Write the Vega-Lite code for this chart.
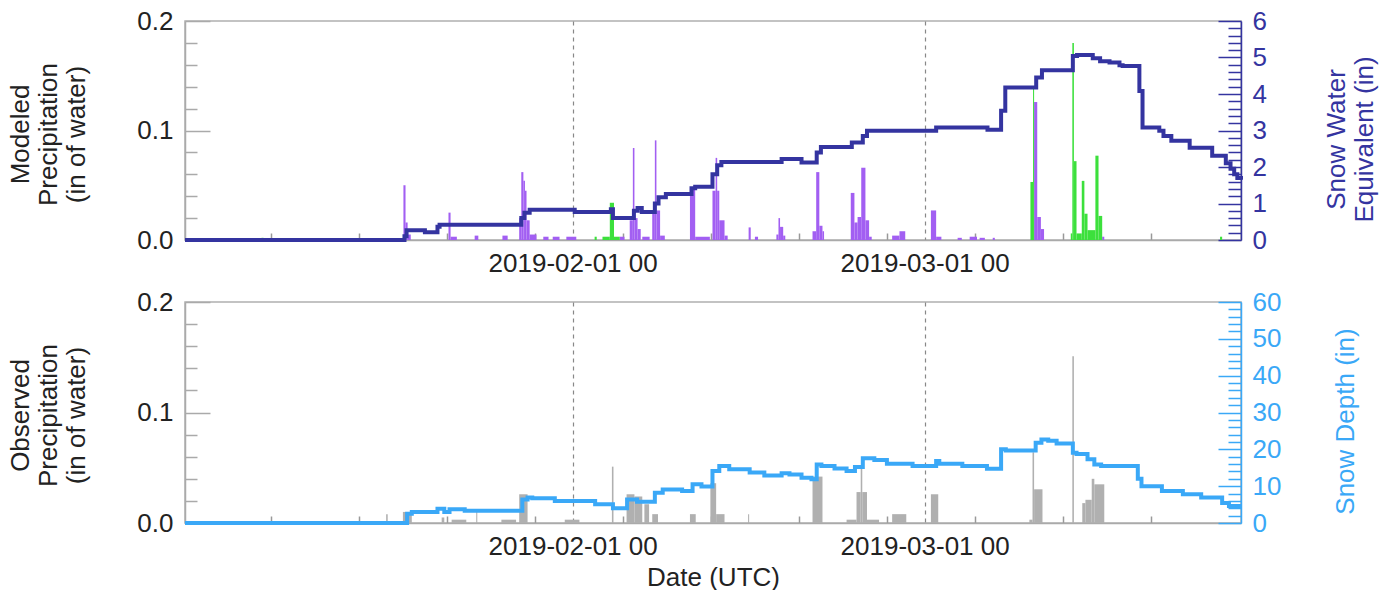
{
  "$schema": "https://vega.github.io/schema/vega-lite/v6.json",
  "background": "white",
  "padding": {"left": 7, "top": 7, "right": 0, "bottom": 0},
  "config": {
    "font": "Liberation Sans",
    "view": {"stroke": "#b0b0b0", "strokeWidth": 1.5},
    "axis": {
      "labelFont": "Liberation Sans",
      "titleFont": "Liberation Sans",
      "labelFontSize": 26,
      "titleFontSize": 26,
      "titleFontWeight": "normal",
      "labelColor": "#222222",
      "titleColor": "#222222",
      "domainColor": "#aaaaaa",
      "tickColor": "#aaaaaa",
      "domainWidth": 1.5,
      "tickWidth": 1.5,
      "titleLineHeight": 28
    }
  },
  "datasets": {
    "modeled": [
      {"s": "2019-01-18T13:00:00Z", "e": "2019-01-18T17:00:00Z", "v": 0.050, "k": "snow"},
      {"s": "2019-01-18T17:00:00Z", "e": "2019-01-18T21:00:00Z", "v": 0.016, "k": "snow"},
      {"s": "2019-01-18T21:00:00Z", "e": "2019-01-19T03:00:00Z", "v": 0.005, "k": "snow"},
      {"s": "2019-01-22T03:00:00Z", "e": "2019-01-22T07:00:00Z", "v": 0.025, "k": "snow"},
      {"s": "2019-01-22T07:00:00Z", "e": "2019-01-22T19:00:00Z", "v": 0.003, "k": "snow"},
      {"s": "2019-01-24T05:00:00Z", "e": "2019-01-24T12:00:00Z", "v": 0.004, "k": "snow"},
      {"s": "2019-01-26T10:00:00Z", "e": "2019-01-26T20:00:00Z", "v": 0.004, "k": "snow"},
      {"s": "2019-01-27T18:00:00Z", "e": "2019-01-27T22:00:00Z", "v": 0.020, "k": "snow"},
      {"s": "2019-01-27T22:00:00Z", "e": "2019-01-28T02:00:00Z", "v": 0.062, "k": "snow"},
      {"s": "2019-01-28T02:00:00Z", "e": "2019-01-28T05:00:00Z", "v": 0.054, "k": "snow"},
      {"s": "2019-01-28T05:00:00Z", "e": "2019-01-28T08:00:00Z", "v": 0.045, "k": "snow"},
      {"s": "2019-01-28T08:00:00Z", "e": "2019-01-28T14:00:00Z", "v": 0.018, "k": "snow"},
      {"s": "2019-01-28T14:00:00Z", "e": "2019-01-29T03:00:00Z", "v": 0.005, "k": "snow"},
      {"s": "2019-01-29T16:00:00Z", "e": "2019-01-30T02:00:00Z", "v": 0.003, "k": "snow"},
      {"s": "2019-01-30T10:00:00Z", "e": "2019-01-30T23:00:00Z", "v": 0.003, "k": "snow"},
      {"s": "2019-01-31T12:00:00Z", "e": "2019-02-01T07:00:00Z", "v": 0.003, "k": "snow"},
      {"s": "2019-02-04T18:00:00Z", "e": "2019-02-05T03:00:00Z", "v": 0.003, "k": "snow"},
      {"s": "2019-02-05T13:00:00Z", "e": "2019-02-05T19:00:00Z", "v": 0.018, "k": "snow"},
      {"s": "2019-02-05T19:00:00Z", "e": "2019-02-05T22:00:00Z", "v": 0.084, "k": "snow"},
      {"s": "2019-02-05T22:00:00Z", "e": "2019-02-06T04:00:00Z", "v": 0.020, "k": "snow"},
      {"s": "2019-02-06T04:00:00Z", "e": "2019-02-06T10:00:00Z", "v": 0.010, "k": "snow"},
      {"s": "2019-02-06T13:00:00Z", "e": "2019-02-07T03:00:00Z", "v": 0.003, "k": "snow"},
      {"s": "2019-02-07T08:00:00Z", "e": "2019-02-07T13:00:00Z", "v": 0.027, "k": "snow"},
      {"s": "2019-02-07T13:00:00Z", "e": "2019-02-07T16:00:00Z", "v": 0.091, "k": "snow"},
      {"s": "2019-02-07T16:00:00Z", "e": "2019-02-07T23:00:00Z", "v": 0.027, "k": "snow"},
      {"s": "2019-02-07T23:00:00Z", "e": "2019-02-08T08:00:00Z", "v": 0.004, "k": "snow"},
      {"s": "2019-02-10T08:00:00Z", "e": "2019-02-10T18:00:00Z", "v": 0.048, "k": "snow"},
      {"s": "2019-02-10T18:00:00Z", "e": "2019-02-11T22:00:00Z", "v": 0.003, "k": "snow"},
      {"s": "2019-02-12T03:00:00Z", "e": "2019-02-12T09:00:00Z", "v": 0.045, "k": "snow"},
      {"s": "2019-02-12T09:00:00Z", "e": "2019-02-12T12:00:00Z", "v": 0.075, "k": "snow"},
      {"s": "2019-02-12T12:00:00Z", "e": "2019-02-12T16:00:00Z", "v": 0.045, "k": "snow"},
      {"s": "2019-02-12T16:00:00Z", "e": "2019-02-13T02:00:00Z", "v": 0.018, "k": "snow"},
      {"s": "2019-02-13T02:00:00Z", "e": "2019-02-13T08:00:00Z", "v": 0.004, "k": "snow"},
      {"s": "2019-02-15T00:00:00Z", "e": "2019-02-15T04:00:00Z", "v": 0.0115, "k": "snow"},
      {"s": "2019-02-15T12:00:00Z", "e": "2019-02-15T18:00:00Z", "v": 0.003, "k": "snow"},
      {"s": "2019-02-17T05:00:00Z", "e": "2019-02-17T09:00:00Z", "v": 0.005, "k": "snow"},
      {"s": "2019-02-17T09:00:00Z", "e": "2019-02-17T12:00:00Z", "v": 0.020, "k": "snow"},
      {"s": "2019-02-17T12:00:00Z", "e": "2019-02-17T18:00:00Z", "v": 0.012, "k": "snow"},
      {"s": "2019-02-17T18:00:00Z", "e": "2019-02-17T22:00:00Z", "v": 0.004, "k": "snow"},
      {"s": "2019-02-20T02:00:00Z", "e": "2019-02-20T09:00:00Z", "v": 0.008, "k": "snow"},
      {"s": "2019-02-20T09:00:00Z", "e": "2019-02-20T15:00:00Z", "v": 0.062, "k": "snow"},
      {"s": "2019-02-20T15:00:00Z", "e": "2019-02-20T21:00:00Z", "v": 0.013, "k": "snow"},
      {"s": "2019-02-20T21:00:00Z", "e": "2019-02-21T00:00:00Z", "v": 0.008, "k": "snow"},
      {"s": "2019-02-23T03:00:00Z", "e": "2019-02-23T10:00:00Z", "v": 0.043, "k": "snow"},
      {"s": "2019-02-23T10:00:00Z", "e": "2019-02-23T16:00:00Z", "v": 0.016, "k": "snow"},
      {"s": "2019-02-23T16:00:00Z", "e": "2019-02-23T23:00:00Z", "v": 0.021, "k": "snow"},
      {"s": "2019-02-23T23:00:00Z", "e": "2019-02-24T07:00:00Z", "v": 0.066, "k": "snow"},
      {"s": "2019-02-24T07:00:00Z", "e": "2019-02-24T14:00:00Z", "v": 0.018, "k": "snow"},
      {"s": "2019-02-24T14:00:00Z", "e": "2019-02-24T19:00:00Z", "v": 0.003, "k": "snow"},
      {"s": "2019-02-26T10:00:00Z", "e": "2019-02-27T00:00:00Z", "v": 0.004, "k": "snow"},
      {"s": "2019-02-27T00:00:00Z", "e": "2019-02-27T11:00:00Z", "v": 0.008, "k": "snow"},
      {"s": "2019-03-01T12:00:00Z", "e": "2019-03-01T22:00:00Z", "v": 0.027, "k": "snow"},
      {"s": "2019-03-01T22:00:00Z", "e": "2019-03-02T08:00:00Z", "v": 0.003, "k": "snow"},
      {"s": "2019-03-03T15:00:00Z", "e": "2019-03-03T23:00:00Z", "v": 0.002, "k": "snow"},
      {"s": "2019-03-04T14:00:00Z", "e": "2019-03-05T04:00:00Z", "v": 0.003, "k": "snow"},
      {"s": "2019-03-05T09:00:00Z", "e": "2019-03-05T19:00:00Z", "v": 0.002, "k": "snow"},
      {"s": "2019-03-06T10:00:00Z", "e": "2019-03-06T14:00:00Z", "v": 0.002, "k": "snow"},
      {"s": "2019-03-09T17:00:00Z", "e": "2019-03-09T23:00:00Z", "v": 0.126, "k": "snow"},
      {"s": "2019-03-09T23:00:00Z", "e": "2019-03-10T06:00:00Z", "v": 0.021, "k": "snow"},
      {"s": "2019-03-10T06:00:00Z", "e": "2019-03-10T12:00:00Z", "v": 0.010, "k": "snow"},
      {"s": "2019-03-15T03:00:00Z", "e": "2019-03-15T07:00:00Z", "v": 0.003, "k": "snow"},
      {"s": "2019-01-07T06:00:00Z", "e": "2019-01-07T10:00:00Z", "v": 0.002, "k": "rain"},
      {"s": "2019-02-02T18:00:00Z", "e": "2019-02-02T22:00:00Z", "v": 0.003, "k": "rain"},
      {"s": "2019-02-03T09:00:00Z", "e": "2019-02-03T23:00:00Z", "v": 0.003, "k": "rain"},
      {"s": "2019-02-03T23:00:00Z", "e": "2019-02-04T07:00:00Z", "v": 0.034, "k": "rain"},
      {"s": "2019-02-04T07:00:00Z", "e": "2019-02-04T18:00:00Z", "v": 0.003, "k": "rain"},
      {"s": "2019-03-09T10:00:00Z", "e": "2019-03-09T15:00:00Z", "v": 0.053, "k": "rain"},
      {"s": "2019-03-09T15:00:00Z", "e": "2019-03-09T17:00:00Z", "v": 0.138, "k": "rain"},
      {"s": "2019-03-12T15:00:00Z", "e": "2019-03-12T18:00:00Z", "v": 0.006, "k": "rain"},
      {"s": "2019-03-12T18:00:00Z", "e": "2019-03-12T21:00:00Z", "v": 0.180, "k": "rain"},
      {"s": "2019-03-12T21:00:00Z", "e": "2019-03-13T02:00:00Z", "v": 0.072, "k": "rain"},
      {"s": "2019-03-13T02:00:00Z", "e": "2019-03-13T12:00:00Z", "v": 0.006, "k": "rain"},
      {"s": "2019-03-13T12:00:00Z", "e": "2019-03-13T17:00:00Z", "v": 0.054, "k": "rain"},
      {"s": "2019-03-13T17:00:00Z", "e": "2019-03-13T23:00:00Z", "v": 0.024, "k": "rain"},
      {"s": "2019-03-13T23:00:00Z", "e": "2019-03-14T14:00:00Z", "v": 0.009, "k": "rain"},
      {"s": "2019-03-14T14:00:00Z", "e": "2019-03-14T20:00:00Z", "v": 0.077, "k": "rain"},
      {"s": "2019-03-14T20:00:00Z", "e": "2019-03-15T03:00:00Z", "v": 0.022, "k": "rain"},
      {"s": "2019-03-24T12:00:00Z", "e": "2019-03-24T16:00:00Z", "v": 0.003, "k": "rain"}
    ],
    "observed": [
      {"s": "2019-01-17T04:00:00Z", "e": "2019-01-17T07:00:00Z", "v": 0.008},
      {"s": "2019-01-18T12:00:00Z", "e": "2019-01-19T05:00:00Z", "v": 0.010},
      {"s": "2019-01-21T14:00:00Z", "e": "2019-01-21T19:00:00Z", "v": 0.005},
      {"s": "2019-01-22T09:00:00Z", "e": "2019-01-23T13:00:00Z", "v": 0.003},
      {"s": "2019-01-24T08:00:00Z", "e": "2019-01-24T10:00:00Z", "v": 0.012},
      {"s": "2019-01-26T08:00:00Z", "e": "2019-01-27T12:00:00Z", "v": 0.003},
      {"s": "2019-01-27T18:00:00Z", "e": "2019-01-28T10:00:00Z", "v": 0.026},
      {"s": "2019-01-31T09:00:00Z", "e": "2019-02-01T13:00:00Z", "v": 0.003},
      {"s": "2019-02-04T03:00:00Z", "e": "2019-02-04T06:00:00Z", "v": 0.051},
      {"s": "2019-02-05T07:00:00Z", "e": "2019-02-05T22:00:00Z", "v": 0.026},
      {"s": "2019-02-05T22:00:00Z", "e": "2019-02-06T13:00:00Z", "v": 0.024},
      {"s": "2019-02-06T17:00:00Z", "e": "2019-02-07T02:00:00Z", "v": 0.017},
      {"s": "2019-02-07T08:00:00Z", "e": "2019-02-07T19:00:00Z", "v": 0.008},
      {"s": "2019-02-10T08:00:00Z", "e": "2019-02-10T19:00:00Z", "v": 0.008},
      {"s": "2019-02-11T23:00:00Z", "e": "2019-02-12T10:00:00Z", "v": 0.036},
      {"s": "2019-02-12T10:00:00Z", "e": "2019-02-13T02:00:00Z", "v": 0.008},
      {"s": "2019-02-14T23:00:00Z", "e": "2019-02-15T01:00:00Z", "v": 0.008},
      {"s": "2019-02-20T02:00:00Z", "e": "2019-02-20T21:00:00Z", "v": 0.042},
      {"s": "2019-02-22T19:00:00Z", "e": "2019-02-23T14:00:00Z", "v": 0.003},
      {"s": "2019-02-23T14:00:00Z", "e": "2019-02-23T22:00:00Z", "v": 0.028},
      {"s": "2019-02-23T22:00:00Z", "e": "2019-02-24T01:00:00Z", "v": 0.049},
      {"s": "2019-02-24T01:00:00Z", "e": "2019-02-24T10:00:00Z", "v": 0.028},
      {"s": "2019-02-24T10:00:00Z", "e": "2019-02-25T09:00:00Z", "v": 0.003},
      {"s": "2019-02-26T10:00:00Z", "e": "2019-02-27T13:00:00Z", "v": 0.008},
      {"s": "2019-03-01T12:00:00Z", "e": "2019-03-02T02:00:00Z", "v": 0.026},
      {"s": "2019-03-09T08:00:00Z", "e": "2019-03-09T14:00:00Z", "v": 0.003},
      {"s": "2019-03-09T14:00:00Z", "e": "2019-03-09T17:00:00Z", "v": 0.064},
      {"s": "2019-03-09T17:00:00Z", "e": "2019-03-10T09:00:00Z", "v": 0.0305},
      {"s": "2019-03-12T18:00:00Z", "e": "2019-03-12T21:00:00Z", "v": 0.151},
      {"s": "2019-03-13T13:00:00Z", "e": "2019-03-13T19:00:00Z", "v": 0.018},
      {"s": "2019-03-13T19:00:00Z", "e": "2019-03-14T07:00:00Z", "v": 0.021},
      {"s": "2019-03-14T07:00:00Z", "e": "2019-03-14T12:00:00Z", "v": 0.040},
      {"s": "2019-03-14T12:00:00Z", "e": "2019-03-15T07:00:00Z", "v": 0.035}
    ],
    "swe": [
      {"t": "2019-01-01T04:00:00Z", "v": 0},
      {"t": "2019-01-18T15:00:00Z", "v": 0.1},
      {"t": "2019-01-18T19:00:00Z", "v": 0.27},
      {"t": "2019-01-20T06:00:00Z", "v": 0.21},
      {"t": "2019-01-21T06:00:00Z", "v": 0.36},
      {"t": "2019-01-21T10:00:00Z", "v": 0.42},
      {"t": "2019-01-27T22:00:00Z", "v": 0.6},
      {"t": "2019-01-28T04:00:00Z", "v": 0.75},
      {"t": "2019-01-28T14:00:00Z", "v": 0.83},
      {"t": "2019-02-01T04:00:00Z", "v": 0.77},
      {"t": "2019-02-04T01:00:00Z", "v": 0.84},
      {"t": "2019-02-04T05:00:00Z", "v": 0.60},
      {"t": "2019-02-05T21:00:00Z", "v": 0.80},
      {"t": "2019-02-06T04:00:00Z", "v": 0.88},
      {"t": "2019-02-06T12:00:00Z", "v": 0.77},
      {"t": "2019-02-07T13:00:00Z", "v": 1.0},
      {"t": "2019-02-07T20:00:00Z", "v": 1.17},
      {"t": "2019-02-08T10:00:00Z", "v": 1.26},
      {"t": "2019-02-10T11:00:00Z", "v": 1.42},
      {"t": "2019-02-10T18:00:00Z", "v": 1.46},
      {"t": "2019-02-12T03:00:00Z", "v": 1.8},
      {"t": "2019-02-12T12:00:00Z", "v": 2.05},
      {"t": "2019-02-12T20:00:00Z", "v": 2.14},
      {"t": "2019-02-17T15:00:00Z", "v": 2.22},
      {"t": "2019-02-19T05:00:00Z", "v": 2.12},
      {"t": "2019-02-20T10:00:00Z", "v": 2.4},
      {"t": "2019-02-20T18:00:00Z", "v": 2.55},
      {"t": "2019-02-23T05:00:00Z", "v": 2.67},
      {"t": "2019-02-24T02:00:00Z", "v": 2.85},
      {"t": "2019-02-24T10:00:00Z", "v": 2.99},
      {"t": "2019-03-01T22:00:00Z", "v": 3.08},
      {"t": "2019-03-06T00:00:00Z", "v": 3.02},
      {"t": "2019-03-07T02:00:00Z", "v": 3.54},
      {"t": "2019-03-07T10:00:00Z", "v": 4.18},
      {"t": "2019-03-09T21:00:00Z", "v": 4.45},
      {"t": "2019-03-10T08:00:00Z", "v": 4.65},
      {"t": "2019-03-12T19:00:00Z", "v": 5.04},
      {"t": "2019-03-13T03:00:00Z", "v": 5.07},
      {"t": "2019-03-14T09:00:00Z", "v": 4.98},
      {"t": "2019-03-14T23:00:00Z", "v": 4.90},
      {"t": "2019-03-15T17:00:00Z", "v": 4.86},
      {"t": "2019-03-16T12:00:00Z", "v": 4.79},
      {"t": "2019-03-16T18:00:00Z", "v": 4.77},
      {"t": "2019-03-18T02:00:00Z", "v": 4.08},
      {"t": "2019-03-18T08:00:00Z", "v": 3.08},
      {"t": "2019-03-19T16:00:00Z", "v": 2.99},
      {"t": "2019-03-20T00:00:00Z", "v": 2.85},
      {"t": "2019-03-20T15:00:00Z", "v": 2.72},
      {"t": "2019-03-22T02:00:00Z", "v": 2.53},
      {"t": "2019-03-23T21:00:00Z", "v": 2.31},
      {"t": "2019-03-24T23:00:00Z", "v": 2.10},
      {"t": "2019-03-25T08:00:00Z", "v": 1.95},
      {"t": "2019-03-25T15:00:00Z", "v": 1.80},
      {"t": "2019-03-25T21:00:00Z", "v": 1.70},
      {"t": "2019-03-26T04:00:00Z", "v": 1.65}
    ],
    "depth": [
      {"t": "2019-01-01T04:00:00Z", "v": 0},
      {"t": "2019-01-18T20:00:00Z", "v": 2.5},
      {"t": "2019-01-19T05:00:00Z", "v": 3.0},
      {"t": "2019-01-21T06:00:00Z", "v": 3.9},
      {"t": "2019-01-21T19:00:00Z", "v": 3.0},
      {"t": "2019-01-22T05:00:00Z", "v": 3.7},
      {"t": "2019-01-23T10:00:00Z", "v": 3.3},
      {"t": "2019-01-28T00:00:00Z", "v": 6.4},
      {"t": "2019-01-28T10:00:00Z", "v": 6.9},
      {"t": "2019-01-28T19:00:00Z", "v": 6.7},
      {"t": "2019-01-30T14:00:00Z", "v": 6.0},
      {"t": "2019-02-02T19:00:00Z", "v": 5.1},
      {"t": "2019-02-04T05:00:00Z", "v": 4.0},
      {"t": "2019-02-05T08:00:00Z", "v": 6.4},
      {"t": "2019-02-06T03:00:00Z", "v": 5.8},
      {"t": "2019-02-07T13:00:00Z", "v": 8.2},
      {"t": "2019-02-08T04:00:00Z", "v": 9.1},
      {"t": "2019-02-09T17:00:00Z", "v": 8.7},
      {"t": "2019-02-10T13:00:00Z", "v": 10.5},
      {"t": "2019-02-11T06:00:00Z", "v": 9.9},
      {"t": "2019-02-12T03:00:00Z", "v": 14.1},
      {"t": "2019-02-12T16:00:00Z", "v": 15.5},
      {"t": "2019-02-13T11:00:00Z", "v": 14.6},
      {"t": "2019-02-15T02:00:00Z", "v": 13.7},
      {"t": "2019-02-16T06:00:00Z", "v": 12.9},
      {"t": "2019-02-17T15:00:00Z", "v": 13.5},
      {"t": "2019-02-18T06:00:00Z", "v": 13.2},
      {"t": "2019-02-19T05:00:00Z", "v": 12.3},
      {"t": "2019-02-20T00:00:00Z", "v": 11.9},
      {"t": "2019-02-20T10:00:00Z", "v": 15.9},
      {"t": "2019-02-20T19:00:00Z", "v": 15.5},
      {"t": "2019-02-21T20:00:00Z", "v": 14.8},
      {"t": "2019-02-22T19:00:00Z", "v": 14.1},
      {"t": "2019-02-23T11:00:00Z", "v": 15.2},
      {"t": "2019-02-24T02:00:00Z", "v": 17.6},
      {"t": "2019-02-25T00:00:00Z", "v": 17.1},
      {"t": "2019-02-26T00:00:00Z", "v": 16.1},
      {"t": "2019-02-28T01:00:00Z", "v": 15.5},
      {"t": "2019-03-01T22:00:00Z", "v": 16.8},
      {"t": "2019-03-02T04:00:00Z", "v": 16.1},
      {"t": "2019-03-04T00:00:00Z", "v": 15.5},
      {"t": "2019-03-05T23:00:00Z", "v": 14.7},
      {"t": "2019-03-07T02:00:00Z", "v": 20.0},
      {"t": "2019-03-07T11:00:00Z", "v": 19.7},
      {"t": "2019-03-09T20:00:00Z", "v": 21.8},
      {"t": "2019-03-10T07:00:00Z", "v": 22.7},
      {"t": "2019-03-10T20:00:00Z", "v": 22.3},
      {"t": "2019-03-11T12:00:00Z", "v": 21.6},
      {"t": "2019-03-12T19:00:00Z", "v": 19.1},
      {"t": "2019-03-13T02:00:00Z", "v": 18.7},
      {"t": "2019-03-13T23:00:00Z", "v": 17.3},
      {"t": "2019-03-14T12:00:00Z", "v": 15.9},
      {"t": "2019-03-15T01:00:00Z", "v": 15.5},
      {"t": "2019-03-17T23:00:00Z", "v": 12.0},
      {"t": "2019-03-18T06:00:00Z", "v": 10.0},
      {"t": "2019-03-19T21:00:00Z", "v": 8.7},
      {"t": "2019-03-21T13:00:00Z", "v": 7.8},
      {"t": "2019-03-23T00:00:00Z", "v": 6.9},
      {"t": "2019-03-24T16:00:00Z", "v": 5.4},
      {"t": "2019-03-25T05:00:00Z", "v": 4.6},
      {"t": "2019-03-26T04:00:00Z", "v": 4.6}
    ]
  },
  "spacing": 62,
  "bounds": "flush",
  "vconcat": [
    {
      "width": 1056,
      "height": 219,
      "layer": [
        {
          "data": {"name": "modeled"},
          "mark": {"type": "rect"},
          "encoding": {
            "x": {
              "field": "s", "type": "temporal", "title": null,
              "scale": {"type": "utc", "domain": [{"year": 2019, "month": 1, "date": 1, "hours": 4, "utc": true}, {"year": 2019, "month": 3, "date": 26, "hours": 4, "utc": true}]},
              "axis": {
                "values": [
                  {"year": 2019, "month": 1, "date": 8, "utc": true},
                  {"year": 2019, "month": 1, "date": 15, "utc": true},
                  {"year": 2019, "month": 1, "date": 22, "utc": true},
                  {"year": 2019, "month": 1, "date": 29, "utc": true},
                  {"year": 2019, "month": 2, "date": 1, "utc": true},
                  {"year": 2019, "month": 2, "date": 5, "utc": true},
                  {"year": 2019, "month": 2, "date": 12, "utc": true},
                  {"year": 2019, "month": 2, "date": 19, "utc": true},
                  {"year": 2019, "month": 2, "date": 26, "utc": true},
                  {"year": 2019, "month": 3, "date": 1, "utc": true},
                  {"year": 2019, "month": 3, "date": 5, "utc": true},
                  {"year": 2019, "month": 3, "date": 12, "utc": true},
                  {"year": 2019, "month": 3, "date": 19, "utc": true}
                ],
                "labelExpr": "utcdate(datum.value) == 1 ? utcFormat(datum.value, '%Y-%m-%d %H') : ''",
                "grid": true,
                "gridDash": [4, 4],
                "gridColor": "#888888",
                "gridWidth": 1.2,
                "gridOpacity": {"condition": {"test": "utcdate(datum.value) == 1", "value": 1}, "value": 0},
                "tickSize": {"condition": {"test": "utcdate(datum.value) == 1", "value": 0}, "value": -7},
                "tickColor": "#999999",
                "labelPadding": 10,
                "labelFlush": false,
                "labelOverlap": false,
                "title": null
              }
            },
            "x2": {"field": "e"},
            "y": {
              "field": "v", "type": "quantitative",
              "scale": {"domain": [0, 0.2], "nice": false},
              "axis": {
                "orient": "left",
                "title": ["Modeled", "Precipitation", "(in of water)"],
                "titleY": 113,
                "values": [0, 0.02, 0.04, 0.06, 0.08, 0.1, 0.12, 0.14, 0.16, 0.18, 0.2],
                "labelExpr": "abs(datum.value * 10 - round(datum.value * 10)) < 0.001 ? format(datum.value, '.1f') : ''",
                "tickSize": {"condition": {"test": "abs(datum.value * 10 - round(datum.value * 10)) < 0.001", "value": -25}, "value": -12},
                "labelPadding": 37,
                "titlePadding": 47,
                "grid": false
              }
            },
            "y2": {"datum": 0},
            "color": {"field": "k", "type": "nominal", "scale": {"domain": ["snow", "rain"], "range": ["#a25ff2", "#3ce03c"]}, "legend": null}
          }
        },
        {
          "data": {"name": "swe"},
          "mark": {"type": "line", "interpolate": "step-after", "color": "#3434a0", "strokeWidth": 4},
          "encoding": {
            "x": {"field": "t", "type": "temporal", "title": null},
            "y": {
              "field": "v", "type": "quantitative",
              "scale": {"domain": [0, 6], "nice": false},
              "axis": {
                "orient": "right",
                "title": ["Snow Water", "Equivalent (in)"],
                "titleAngle": 270,
                "titleBaseline": "top",
                "titleY": 118,
                "titleColor": "#3434a0",
                "labelColor": "#3434a0",
                "domainColor": "#3434a0",
                "tickColor": "#3434a0",
                "values": [0, 0.2, 0.4, 0.6, 0.8, 1, 1.2, 1.4, 1.6, 1.8, 2, 2.2, 2.4, 2.6, 2.8, 3, 3.2, 3.4, 3.6, 3.8, 4, 4.2, 4.4, 4.6, 4.8, 5, 5.2, 5.4, 5.6, 5.8, 6],
                "labelExpr": "abs(datum.value - round(datum.value)) < 0.001 ? format(datum.value, 'd') : ''",
                "tickSize": {"condition": {"test": "abs(datum.value - round(datum.value)) < 0.001", "value": -23}, "value": -13},
                "labelPadding": 34,
                "titlePadding": 29,
                "grid": false
              }
            }
          }
        }
      ],
      "resolve": {"scale": {"y": "independent"}}
    },
    {
      "width": 1056,
      "height": 221,
      "layer": [
        {
          "data": {"name": "observed"},
          "mark": {"type": "rect", "color": "#b0b0b0"},
          "encoding": {
            "x": {
              "field": "s", "type": "temporal",
              "scale": {"type": "utc", "domain": [{"year": 2019, "month": 1, "date": 1, "hours": 4, "utc": true}, {"year": 2019, "month": 3, "date": 26, "hours": 4, "utc": true}]},
              "axis": {
                "values": [
                  {"year": 2019, "month": 1, "date": 8, "utc": true},
                  {"year": 2019, "month": 1, "date": 15, "utc": true},
                  {"year": 2019, "month": 1, "date": 22, "utc": true},
                  {"year": 2019, "month": 1, "date": 29, "utc": true},
                  {"year": 2019, "month": 2, "date": 1, "utc": true},
                  {"year": 2019, "month": 2, "date": 5, "utc": true},
                  {"year": 2019, "month": 2, "date": 12, "utc": true},
                  {"year": 2019, "month": 2, "date": 19, "utc": true},
                  {"year": 2019, "month": 2, "date": 26, "utc": true},
                  {"year": 2019, "month": 3, "date": 1, "utc": true},
                  {"year": 2019, "month": 3, "date": 5, "utc": true},
                  {"year": 2019, "month": 3, "date": 12, "utc": true},
                  {"year": 2019, "month": 3, "date": 19, "utc": true}
                ],
                "labelExpr": "utcdate(datum.value) == 1 ? utcFormat(datum.value, '%Y-%m-%d %H') : ''",
                "grid": true,
                "gridDash": [4, 4],
                "gridColor": "#888888",
                "gridWidth": 1.2,
                "gridOpacity": {"condition": {"test": "utcdate(datum.value) == 1", "value": 1}, "value": 0},
                "tickSize": {"condition": {"test": "utcdate(datum.value) == 1", "value": 0}, "value": -7},
                "tickColor": "#999999",
                "labelPadding": 10,
                "labelFlush": false,
                "labelOverlap": false,
                "title": "Date (UTC)",
                "titlePadding": 5
              }
            },
            "x2": {"field": "e"},
            "y": {
              "field": "v", "type": "quantitative",
              "scale": {"domain": [0, 0.2], "nice": false},
              "axis": {
                "orient": "left",
                "title": ["Observed", "Precipitation", "(in of water)"],
                "titleY": 113,
                "values": [0, 0.02, 0.04, 0.06, 0.08, 0.1, 0.12, 0.14, 0.16, 0.18, 0.2],
                "labelExpr": "abs(datum.value * 10 - round(datum.value * 10)) < 0.001 ? format(datum.value, '.1f') : ''",
                "tickSize": {"condition": {"test": "abs(datum.value * 10 - round(datum.value * 10)) < 0.001", "value": -25}, "value": -12},
                "labelPadding": 37,
                "titlePadding": 47,
                "grid": false
              }
            },
            "y2": {"datum": 0}
          }
        },
        {
          "data": {"name": "depth"},
          "mark": {"type": "line", "interpolate": "step-after", "color": "#3aa8f7", "strokeWidth": 4},
          "encoding": {
            "x": {"field": "t", "type": "temporal", "title": "Date (UTC)"},
            "y": {
              "field": "v", "type": "quantitative",
              "scale": {"domain": [0, 60], "nice": false},
              "axis": {
                "orient": "right",
                "title": "Snow Depth (in)",
                "titleAngle": 270,
                "titleBaseline": "top",
                "titleY": 119,
                "titleColor": "#3aa8f7",
                "labelColor": "#3aa8f7",
                "domainColor": "#3aa8f7",
                "tickColor": "#3aa8f7",
                "values": [0, 2, 4, 6, 8, 10, 12, 14, 16, 18, 20, 22, 24, 26, 28, 30, 32, 34, 36, 38, 40, 42, 44, 46, 48, 50, 52, 54, 56, 58, 60],
                "labelExpr": "datum.value % 10 == 0 ? format(datum.value, 'd') : ''",
                "tickSize": {"condition": {"test": "datum.value % 10 == 0", "value": -23}, "value": -13},
                "labelPadding": 34,
                "titlePadding": 52,
                "grid": false
              }
            }
          }
        }
      ],
      "resolve": {"scale": {"y": "independent"}}
    }
  ]
}
